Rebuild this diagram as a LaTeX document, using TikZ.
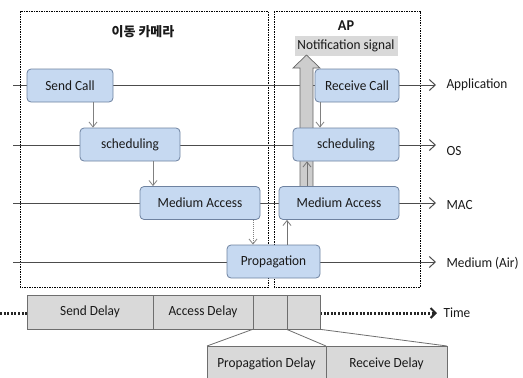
\documentclass[tikz,border=0pt]{standalone}
\usepackage{fontspec}
\setmainfont{Carlito}[FakeStretch=0.95]
\newfontfamily\kr{Noto Sans CJK KR}
\usetikzlibrary{arrows.meta,calc}
\definecolor{boxfill}{RGB}{198,217,241}
\definecolor{boxline}{RGB}{110,130,160}
\definecolor{barfill}{RGB}{217,217,217}
\definecolor{barline}{RGB}{110,110,110}
\definecolor{txt}{RGB}{25,25,25}
\definecolor{bigarr}{RGB}{205,205,205}
\tikzset{
  x=1pt,y=-1pt,
  every node/.style={text=txt,font=\fontsize{14}{15}\selectfont},
  layerbox/.style={draw=boxline,fill=boxfill,rounded corners=4pt,line width=0.8pt,
    minimum height=33pt,inner sep=0pt},
  rowline/.style={draw=black!70,line width=1pt,-{Straight Barb[length=6pt,width=11pt,line width=1pt]}},
  downarr/.style={draw=black!50,line width=0.8pt,dash pattern=on 1.2pt off 0.8pt,
    -{Straight Barb[length=5pt,width=8pt,line width=0.8pt,sep=0pt]}},
  uparr/.style={draw=black!55,line width=0.8pt,-{Straight Barb[length=5pt,width=8pt,line width=0.8pt]}},
  region/.style={draw=black,line width=0.6pt,dash pattern=on 1.5pt off 1pt},
  barcell/.style={draw=barline,fill=barfill,line width=0.7pt},
  lbl/.style={anchor=west}
}
\begin{document}
\begin{tikzpicture}
\useasboundingbox (0,0) rectangle (523,378);
% regions
\draw[region] (20,11) rectangle (268,287);
\draw[region] (274,11) rectangle (420,287);
\node[font=\kr\bfseries\fontsize{13}{14}\selectfont] (title) at (143,32) {이동 카메라};
\node[font=\bfseries\fontsize{15}{16}\selectfont] (ap) at (346,26) {AP};
\node[fill=barfill,minimum width=103pt,minimum height=20pt,inner sep=0pt] (notif) at (346,45.5) {Notification signal};
% row lines
\coordinate (a0) at (13,85); \coordinate (a1) at (436,85);
\coordinate (o0) at (13,145); \coordinate (o1) at (436,145);
\coordinate (m0) at (13,203); \coordinate (m1) at (436,203);
\coordinate (d0) at (13,262); \coordinate (d1) at (436,262);
\draw[rowline] (a0) -- (a1);
\draw[rowline] (o0) -- (o1);
\draw[rowline] (m0) -- (m1);
\draw[rowline] (d0) -- (d1);
\node[lbl] (lapp) at (443,85) {Application};
\node[lbl] (los) at (443,151) {OS};
\node[lbl] (lmac) at (443,205) {MAC};
\node[lbl] (lmed) at (443,263) {Medium (Air)};
% big hollow arrow
\draw[draw=black!60,fill=bigarr,line width=0.7pt]
  (300,186) -- (300,68) -- (293,68) -- (306.5,55) -- (320,68) -- (313,68) -- (313,186);
% boxes
\node[layerbox,minimum width=86pt] (sendcall) at (70,85.5) {Send Call};
\node[layerbox,minimum width=100pt] (schedL) at (130,144.5) {scheduling};
\node[layerbox,minimum width=120pt] (macL) at (200,203) {Medium Access};
\node[layerbox,minimum width=93pt] (prop) at (273.5,261.5) {Propagation};
\node[layerbox,minimum width=84pt] (recv) at (357,85.5) {Receive Call};
\node[layerbox,minimum width=106pt] (schedR) at (346,144.5) {scheduling};
\node[layerbox,minimum width=120pt] (macR) at (339,203) {Medium Access};
% thin arrows
\draw[downarr] ([xshift=23pt]sendcall.south) -- ([xshift=23pt]sendcall.south |- schedL.north);
\draw[downarr] ([xshift=23pt]schedL.south) -- ([xshift=23pt]schedL.south |- macL.north);
\draw[downarr] ([xshift=53pt]macL.south) -- ([xshift=53pt]macL.south |- prop.north);
\draw[downarr] ([xshift=-37pt]recv.south) -- ([xshift=-37pt]recv.south |- schedR.north);
\draw[uparr] ([xshift=13.5pt]prop.north) -- ([xshift=13.5pt]prop.north |- macR.south);
\draw[uparr] ([xshift=-32pt]macR.north) -- ([xshift=-32pt]macR.north |- schedR.south);
% timeline
\coordinate (t0) at (0,313);
\coordinate (t1) at (27,313);
\coordinate (t2) at (320,313);
\coordinate (t3) at (437,313);
\draw[black!85,line width=3pt,dash pattern=on 2pt off 1.6pt] (t0) -- (t1);
\draw[black!85,line width=3pt,dash pattern=on 2pt off 1.6pt,
  -{Straight Barb[length=5pt,width=10pt,line width=2pt]}] (t2) -- (t3);
\node[lbl] (ltime) at (440,313) {Time};
\node[barcell,minimum width=126pt,minimum height=34pt,inner sep=0pt] (sd) at (90,312) {Send Delay};
\node[barcell,minimum width=100pt,minimum height=34pt,inner sep=0pt] (ad) at (203,312) {Access Delay};
\node[barcell,minimum width=34pt,minimum height=34pt,inner sep=0pt] (pd) at (270,312) {};
\node[barcell,minimum width=33pt,minimum height=34pt,inner sep=0pt] (rd) at (303.5,312) {};
% expanded boxes
\fill[barfill] (207,346) rectangle (447,380);
\draw[barline,line width=0.7pt] (207,380) -- (207,346) -- (447,346) -- (447,380);
\draw[barline,line width=0.7pt] (326,346) -- (326,380);
\node (pdl) at (266.5,364) {Propagation Delay};
\node (rdl) at (386.5,364) {Receive Delay};
\draw[barline,line width=0.8pt] (pd.south west) -- (207,346);
\draw[barline,line width=0.8pt] (rd.south west) -- (326,346);
\draw[barline,line width=0.8pt] (rd.south east) -- (447,346);
\end{tikzpicture}
\end{document}
